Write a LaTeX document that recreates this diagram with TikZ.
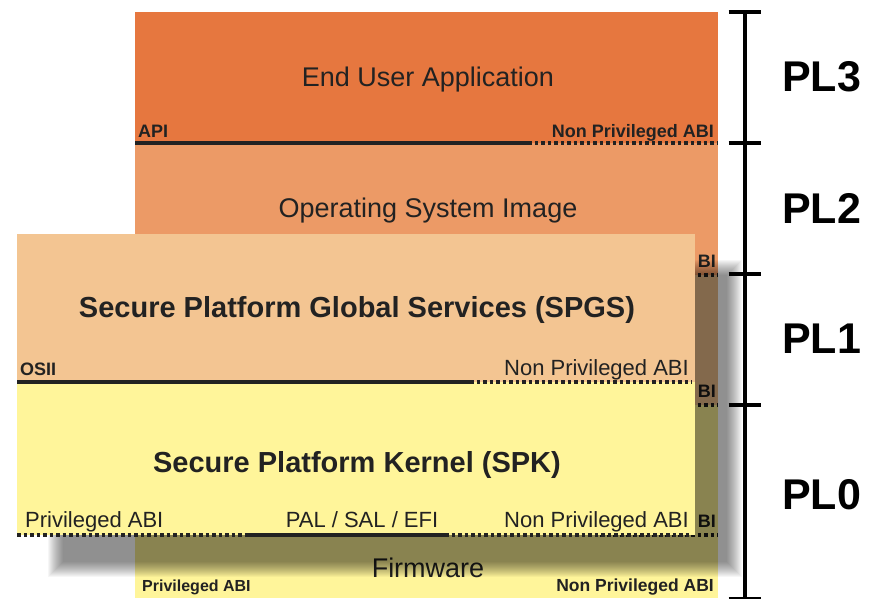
\documentclass[tikz,border=0pt]{standalone}
\usepackage{fontspec}
\setmainfont{Liberation Sans}
\definecolor{euac}{HTML}{E6773F}
\definecolor{osic}{HTML}{EC9A66}
\definecolor{peach}{HTML}{F3C592}
\definecolor{yel}{HTML}{FFF59A}
\definecolor{ink}{HTML}{222222}
\begin{document}
\begin{tikzpicture}[x=1pt,y=-1pt,
  box/.style={inner sep=0pt,outer sep=0pt,anchor=north west,draw=none},
  ttl/.style={text=ink,font=\fontsize{27}{30}\selectfont,anchor=base,inner sep=0pt},
  bttl/.style={text=ink,font=\bfseries\fontsize{29}{32}\selectfont,anchor=base,inner sep=0pt},
  lab/.style={text=ink,font=\fontsize{22}{24}\selectfont,inner sep=0pt},
  blab/.style={text=ink,font=\bfseries\fontsize{18}{20}\selectfont,inner sep=0pt},
  pllab/.style={text=black,font=\bfseries\fontsize{43}{46}\selectfont,anchor=west,inner sep=0pt},
  solidln/.style={draw=ink,line width=4pt},
  dotln/.style={draw=ink,line width=4pt,dash pattern=on 3.5pt off 3pt},
  axisln/.style={draw=black,line width=4pt},
]
\useasboundingbox (0,0) rectangle (879,598);
% ---------- back column ----------
\node[box,fill=euac,minimum width=583pt,minimum height=131pt] (eua) at (135,12) {};
\node[box,fill=osic,minimum width=583pt,minimum height=132pt] (osi) at (135,143) {};
\node[box,fill=peach,minimum width=583pt,minimum height=130pt] (plb1) at (135,275) {};
\node[box,fill=yel,minimum width=583pt,minimum height=130pt] (plb0) at (135,405) {};
\node[box,fill=yel,minimum width=583pt,minimum height=63pt] (fw) at (135,535) {};
\node[ttl] (euat) at (428,86) {End User Application};
\node[ttl] (osit) at (428,217) {Operating System Image};
\node[ttl] (fwt) at (428,577) {Firmware};
\node[blab,anchor=base west] (api) at (138,137) {API};
\node[blab,anchor=base east] (npa3) at (714,137) {Non Privileged ABI};
\node[blab,anchor=base east] (bi2) at (716,267) {BI};
\node[blab,anchor=base east] (bi1) at (716,397) {BI};
\node[blab,anchor=base east] (bi0) at (716,527) {BI};
\node[blab,anchor=base west,font=\bfseries\fontsize{16}{18}\selectfont] (fwpa) at (142,591) {Privileged ABI};
\node[blab,anchor=base east,font=\bfseries\fontsize{17.5}{19}\selectfont] (fwnpa) at (714,591) {Non Privileged ABI};
% back lines
\coordinate (l3a) at (135,143); \coordinate (l3b) at (528,143); \coordinate (l3c) at (718,143);
\draw[solidln] (l3a) -- (l3b);
\draw[dotln] (l3b) -- (l3c);
\coordinate (l2a) at (600,275); \coordinate (l2b) at (718,275);
\draw[dotln] (l2a) -- (l2b);
\coordinate (l1a) at (600,405); \coordinate (l1b) at (718,405);
\draw[dotln] (l1a) -- (l1b);
\coordinate (l0a) at (600,535); \coordinate (l0b) at (718,535);
\draw[dotln] (l0a) -- (l0b);
% ---------- drop shadow ----------
\foreach \i in {0,...,15} {
  \fill[black,opacity=0.036] (48+\i,260+\i) rectangle (742-\i,577-\i);
}
% ---------- front panels ----------
\node[box,fill=peach,minimum width=678pt,minimum height=148pt] (spgs) at (17,234) {};
\node[box,fill=yel,minimum width=678pt,minimum height=153pt] (spk) at (17,382) {};
\node[bttl] (spgst) at (357,317) {Secure Platform Global Services (SPGS)};
\node[bttl] (spkt) at (357,472) {Secure Platform Kernel (SPK)};
\node[lab,anchor=base west,font=\bfseries\fontsize{18}{20}\selectfont] (osii) at (20,375) {OSII};
\node[lab,anchor=base east] (npa1) at (689,375) {Non Privileged ABI};
\node[lab,anchor=base west] (pa0) at (25,527) {Privileged ABI};
\node[lab,anchor=base] (pal) at (362,527) {PAL / SAL / EFI};
\node[lab,anchor=base east] (npa0) at (689,527) {Non Privileged ABI};
\coordinate (f1a) at (17,382); \coordinate (f1b) at (470,382); \coordinate (f1c) at (692,382);
\draw[solidln] (f1a) -- (f1b);
\draw[dotln] (f1b) -- (f1c);
\coordinate (f0a) at (17,535); \coordinate (f0b) at (245,535); \coordinate (f0c) at (445,535); \coordinate (f0d) at (692,535);
\draw[dotln] (f0a) -- (f0b);
\draw[solidln] (f0b) -- (f0c);
\draw[dotln] (f0c) -- (f0d);
% ---------- privilege-level axis ----------
\coordinate (ax3) at (744.5,12);
\coordinate (ax2) at (744.5,143);
\coordinate (ax1) at (744.5,274);
\coordinate (ax0) at (744.5,405);
\coordinate (axb) at (744.5,599);
\draw[axisln] (ax3) -- (axb);
\foreach \t in {ax3,ax2,ax1,ax0,axb} {
  \draw[axisln] ([xshift=-16pt]\t) -- ([xshift=16pt]\t);
}
\node[pllab] (pl3) at (782,77) {PL3};
\node[pllab] (pl2) at (782,208) {PL2};
\node[pllab] (pl1) at (782,339) {PL1};
\node[pllab] (pl0) at (782,495) {PL0};
\end{tikzpicture}
\end{document}
